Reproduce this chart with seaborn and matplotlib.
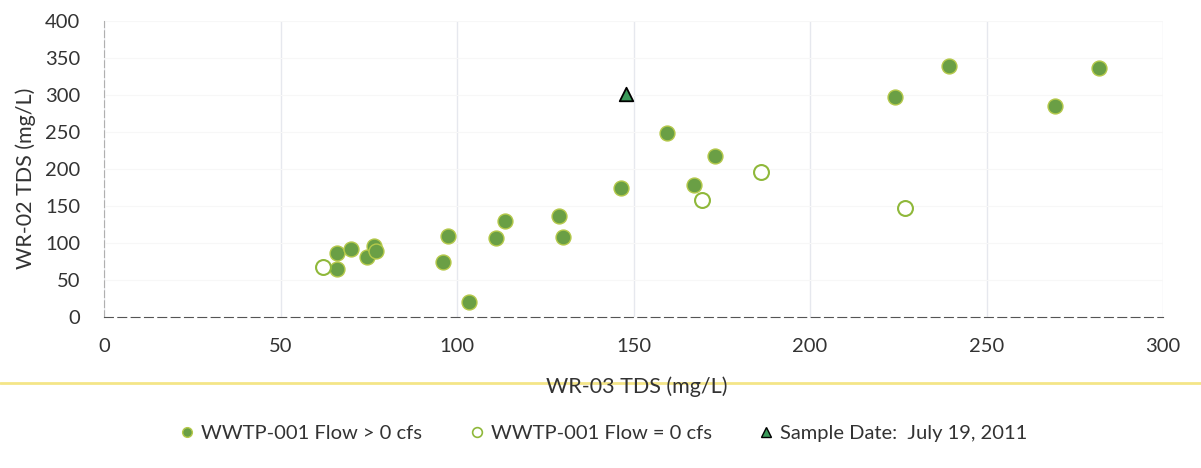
import matplotlib
matplotlib.use("Agg")
import matplotlib.pyplot as plt
from matplotlib.lines import Line2D
import numpy as np
import pandas as pd
import seaborn as sns

# WWTP-001 Flow > 0 cfs
flow_x = [66, 66, 70, 74.5, 76.5, 77, 96, 97.5, 103.5, 111, 113.5, 129, 130,
          146.5, 159.5, 167, 173, 224, 239.5, 269.5, 282]
flow_y = [86, 65, 92, 81, 96, 89, 74, 110, 20, 107, 130, 137, 108,
          174, 249, 178, 217, 297, 339, 285, 336]
# WWTP-001 Flow = 0 cfs
noflow_x = [62, 169.5, 186, 227]
noflow_y = [67, 158, 196, 147]
# sample date
sample_x = [148]
sample_y = [301]

labels = ["WWTP-001 Flow > 0 cfs", "WWTP-001 Flow = 0 cfs", "Sample Date:  July 19, 2011"]

df_flow = pd.DataFrame({"x": flow_x, "y": flow_y})
df_noflow = pd.DataFrame({"x": noflow_x, "y": noflow_y})
df_sample = pd.DataFrame({"x": sample_x, "y": sample_y})

sns.set_style("white")
plt.rcParams["font.family"] = ["Lato", "DejaVu Sans"]

fig = plt.figure(figsize=(12.01, 4.68), dpi=100)
ax = fig.add_axes([104 / 1201, 1 - 317 / 468, 1059 / 1201, 296 / 468])

green = "#6a9f45"
sns.scatterplot(data=df_flow, x="x", y="y", ax=ax, s=115, color=green,
                edgecolor="#b5c94a", linewidth=1.0, zorder=3)
sns.scatterplot(data=df_noflow, x="x", y="y", ax=ax, s=115, color="white",
                edgecolor="#8fb83a", linewidth=1.5, zorder=3)
sns.scatterplot(data=df_sample, x="x", y="y", ax=ax, s=95, marker="^",
                color="#3a9a5a", edgecolor="black", linewidth=1.3, zorder=4)

ax.set_xlim(0, 300)
ax.set_ylim(0, 400)
ax.set_xticks(np.arange(0, 301, 50))
ax.set_yticks(np.arange(0, 401, 50))
ax.grid(axis="x", color="#e6e8ee", linewidth=1.0)
ax.grid(axis="y", color="#f7f7f7", linewidth=0.8)
for s in ["top", "right"]:
    ax.spines[s].set_visible(False)
ax.spines["left"].set_color("#b0b0b0")
ax.spines["left"].set_linestyle((0, (6, 3)))
ax.spines["bottom"].set_color("#555555")
ax.spines["bottom"].set_linestyle((0, (8, 4)))
ax.tick_params(axis="both", labelsize=14.5, colors="#333333", length=0)
ax.tick_params(axis="y", pad=17)
ax.tick_params(axis="x", pad=15)
ax.set_xlabel("WR-03 TDS (mg/L)", fontsize=15.5, color="#333333")
ax.set_ylabel("WR-02 TDS (mg/L)", fontsize=15.5, color="#333333")
ax.xaxis.set_label_coords((637 - 104) / 1059, (317 - 376) / 296)
ax.yaxis.set_label_coords((36 - 104) / 1059, (317 - 178) / 296)

# yellow highlight stroke across the page
fig.add_artist(Line2D([0, 1], [1 - 383 / 468, 1 - 383 / 468], transform=fig.transFigure,
                      color="#f2df6a", linewidth=2, alpha=0.8, zorder=0))

handles = [
    Line2D([], [], ls="", marker="o", ms=7, mfc=green, mec="#b5c94a"),
    Line2D([], [], ls="", marker="o", ms=7, mfc="white", mec="#8fb83a", mew=1.2),
    Line2D([], [], ls="", marker="^", ms=7, mfc="#3a9a5a", mec="black"),
]
fig.legend(handles, labels, loc="center", bbox_to_anchor=(0.5, 1 - 433 / 468), ncol=3,
           frameon=False, fontsize=14.5, handletextpad=0.0, columnspacing=2.0,
           handlelength=1.4, labelcolor="#333333")

fig.savefig("out.png", dpi=100)
